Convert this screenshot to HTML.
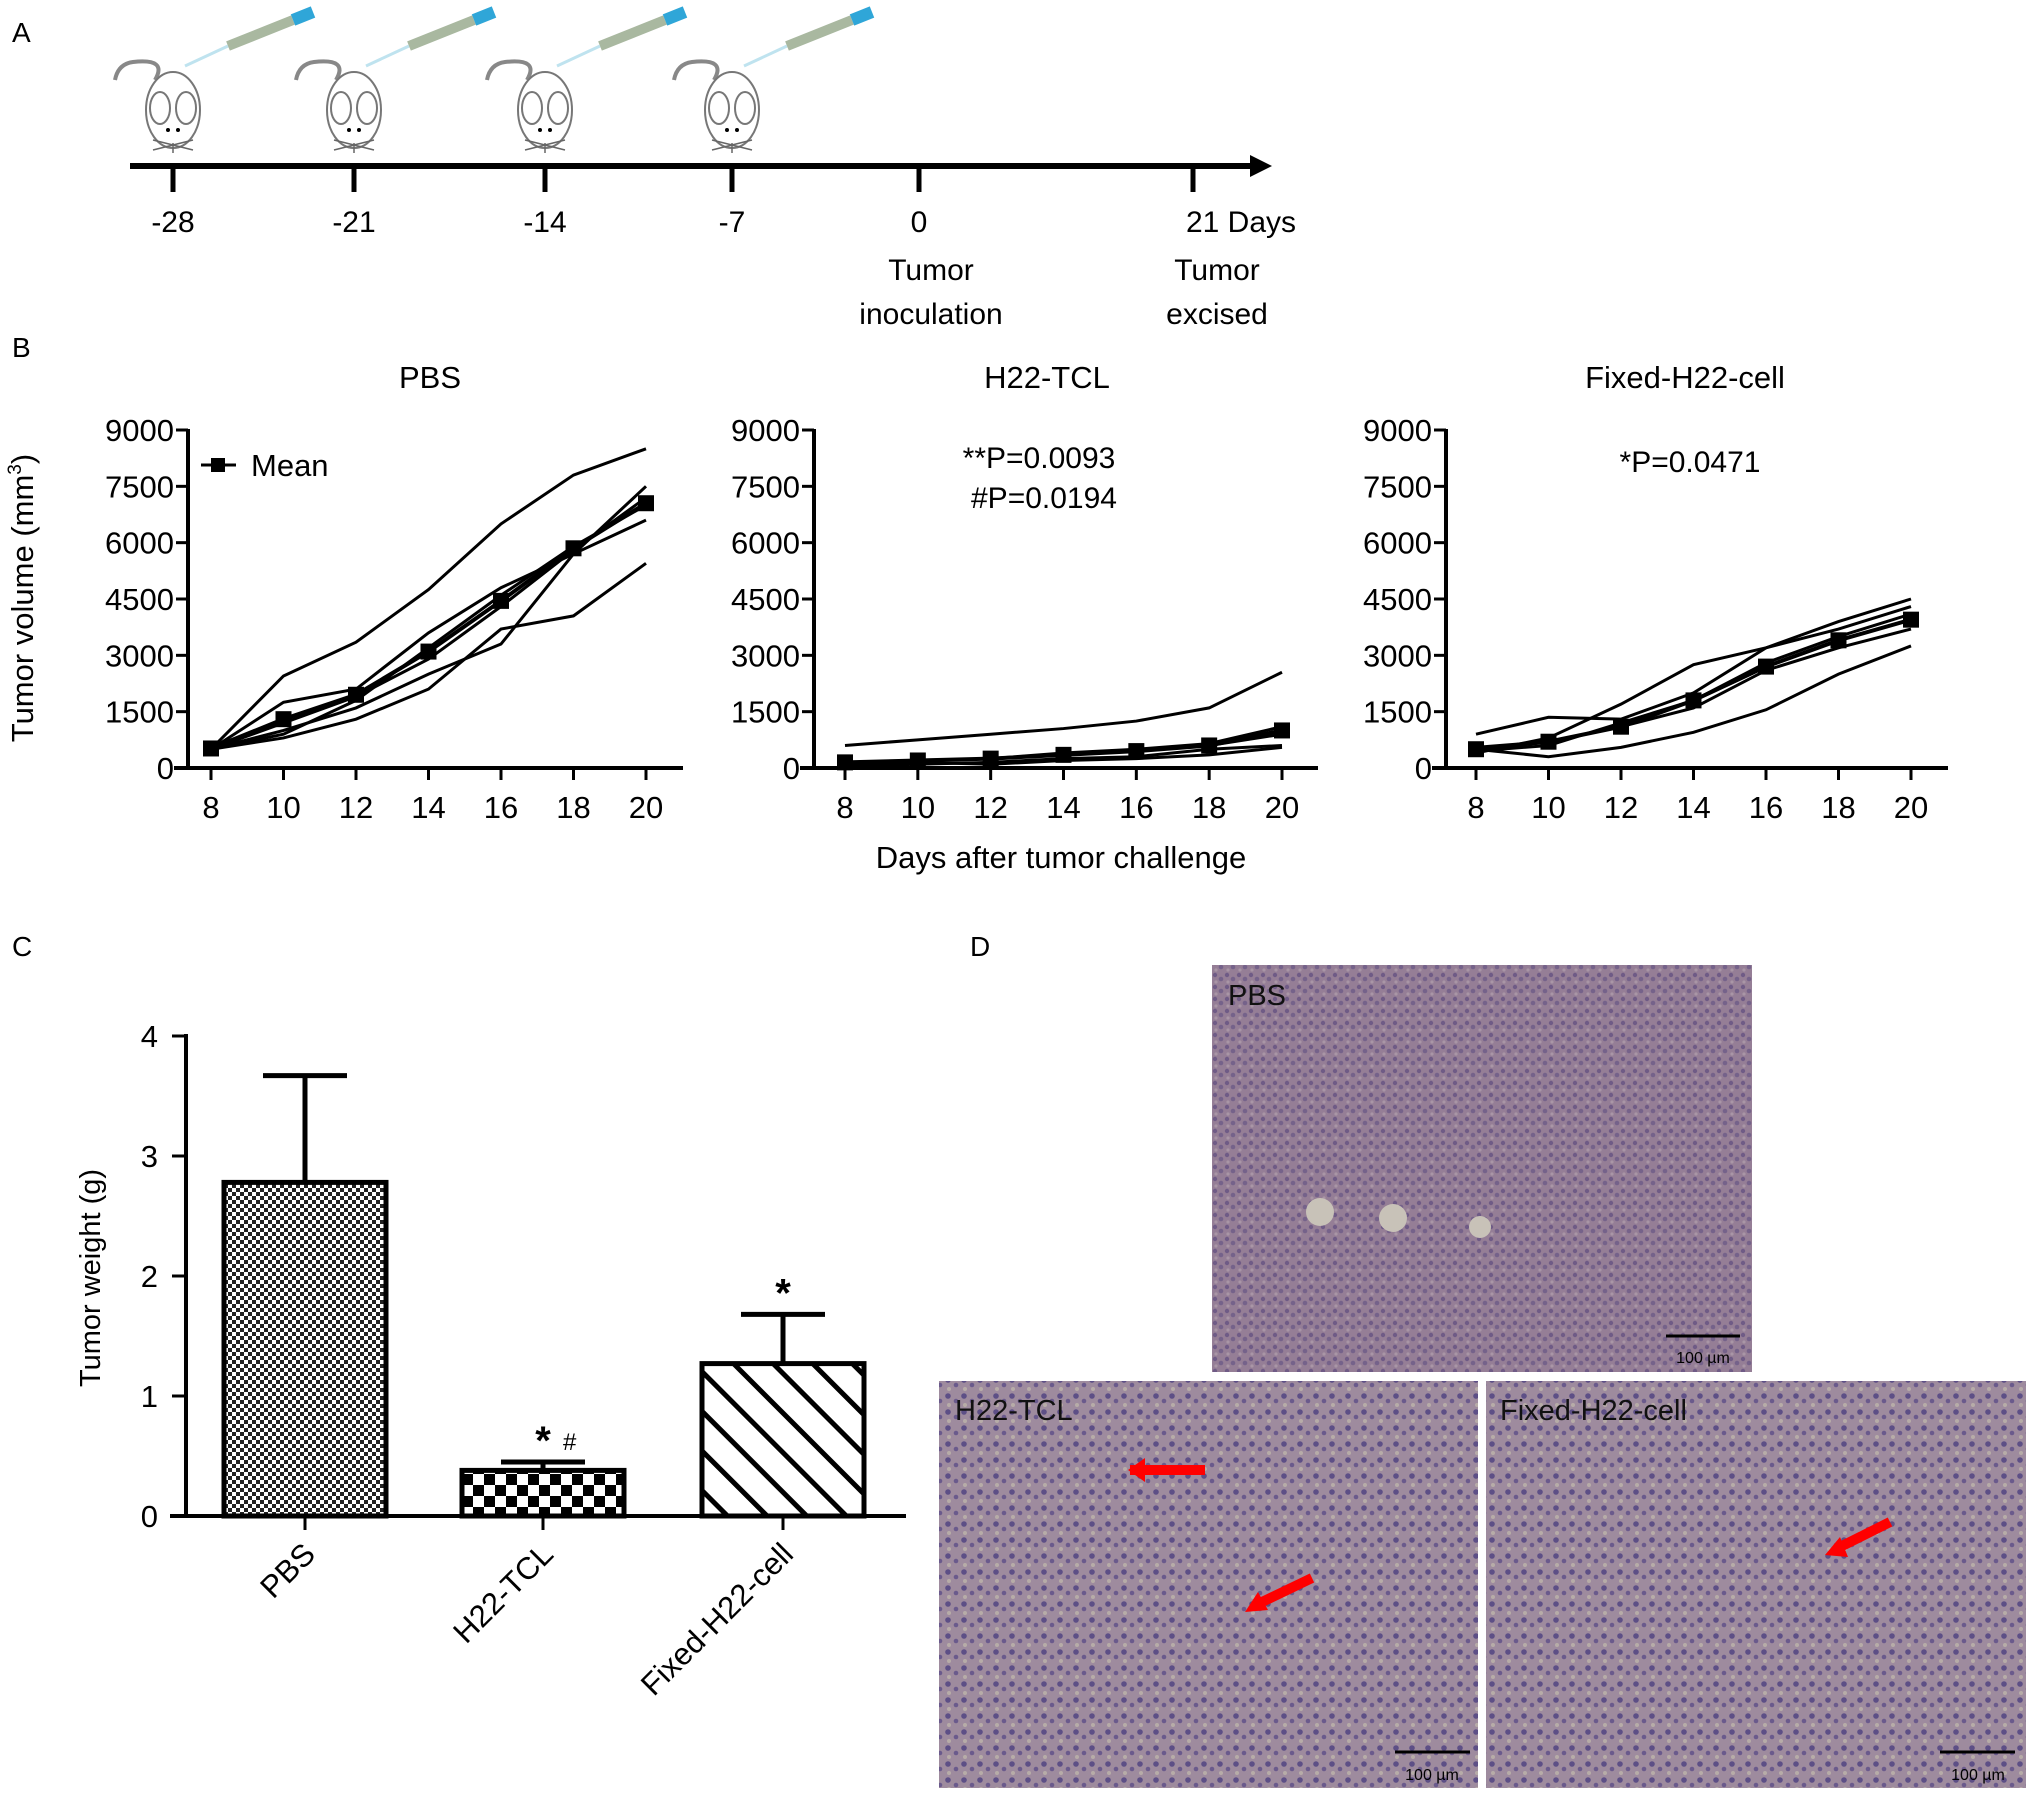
<!DOCTYPE html>
<html><head><meta charset="utf-8">
<style>
html,body{margin:0;padding:0;background:#fff;}
svg{display:block;font-family:"Liberation Sans",Arial,sans-serif;}
</style></head>
<body>
<svg id="fig" width="2032" height="1793" viewBox="0 0 2032 1793" xmlns="http://www.w3.org/2000/svg">
<defs>
  <pattern id="pChkSmall" width="8" height="8" patternUnits="userSpaceOnUse">
    <rect width="8" height="8" fill="#fff"/><rect width="4" height="4" fill="#222"/><rect x="4" y="4" width="4" height="4" fill="#222"/>
  </pattern>
  <pattern id="pChkBig" width="22" height="22" patternUnits="userSpaceOnUse">
    <rect width="22" height="22" fill="#fff"/><rect width="11" height="11" fill="#000"/><rect x="11" y="11" width="11" height="11" fill="#000"/>
  </pattern>
  <pattern id="pDiag" width="28" height="28" patternUnits="userSpaceOnUse" patternTransform="rotate(-45)">
    <rect width="28" height="28" fill="#fff"/><rect x="0" y="0" width="5" height="28" fill="#000"/>
  </pattern>
  <pattern id="pTissue" width="12" height="12" patternUnits="userSpaceOnUse">
    <rect width="12" height="12" fill="#957e96"/>
    <circle cx="3" cy="3" r="2.2" fill="#6f5b86"/><circle cx="9" cy="7" r="2.3" fill="#75628a"/><circle cx="4" cy="10" r="1.6" fill="#a996a6"/>
  </pattern>
  <pattern id="pTissue2" width="16" height="16" patternUnits="userSpaceOnUse">
    <rect width="16" height="16" fill="#9e8b9e"/>
    <circle cx="4" cy="4" r="2.8" fill="#5d4f86"/><circle cx="12" cy="9" r="2.3" fill="#6a5a8c"/><circle cx="5" cy="13" r="2" fill="#b7aca8"/>
  </pattern>
</defs>

<!-- Panel letters -->
<text x="12" y="42" font-size="28">A</text>
<text x="12" y="357" font-size="28">B</text>
<text x="12" y="956" font-size="28">C</text>
<text x="970" y="956" font-size="28">D</text>

<!-- Panel A timeline -->
<g id="timeline">
  <line x1="130" y1="166" x2="1255" y2="166" stroke="#000" stroke-width="6"/>
  <polygon points="1250,155 1272,166 1250,177" fill="#000"/>
</g>
<g id="mice"></g>

<!-- Panel B -->
<g id="panelB"></g>
<text x="33" y="598" font-size="31" text-anchor="middle" transform="rotate(-90 33 598)">Tumor volume (mm<tspan font-size="19" dy="-12">3</tspan><tspan dy="12">)</tspan></text>
<text x="1061" y="868" font-size="31" text-anchor="middle">Days after tumor challenge</text>
<text x="1039" y="468" font-size="30" text-anchor="middle">**P=0.0093</text>
<text x="1044" y="508" font-size="30" text-anchor="middle">#P=0.0194</text>
<text x="1690" y="472" font-size="30" text-anchor="middle">*P=0.0471</text>
<g>
  <line x1="201" y1="465" x2="236" y2="465" stroke="#000" stroke-width="3"/>
  <rect x="211" y="458" width="14" height="14" fill="#000"/>
  <text x="251" y="476" font-size="31">Mean</text>
</g>

<!-- Panel C -->
<g id="panelC"></g>
<text x="100" y="1278" font-size="29" text-anchor="middle" transform="rotate(-90 100 1278)">Tumor weight (g)</text>

<!-- Panel D -->
<g>
  <rect x="1212" y="965" width="540" height="407" fill="url(#pTissue)"/>
  <circle cx="1320" cy="1212" r="14" fill="#c8c2b8"/><circle cx="1393" cy="1218" r="14" fill="#c8c2b8"/><circle cx="1480" cy="1227" r="11" fill="#c8c2b8"/>
  <text x="1228" y="1005" font-size="29" fill="#111">PBS</text>
  <line x1="1666" y1="1336" x2="1740" y2="1336" stroke="#000" stroke-width="3"/>
  <text x="1703" y="1363" font-size="16" text-anchor="middle">100 µm</text>
</g>
<g>
  <rect x="939" y="1381" width="539" height="407" fill="url(#pTissue2)"/>
  <text x="955" y="1420" font-size="29" fill="#111">H22-TCL</text>
  <line x1="1130" y1="1470" x2="1205" y2="1470" stroke="#f00" stroke-width="10"/>
  <polygon points="1128,1470 1145,1458 1145,1482" fill="#f00"/>
  <line x1="1262" y1="1602" x2="1312" y2="1578" stroke="#f00" stroke-width="10"/>
  <polygon points="1245,1612 1258,1592 1268,1610" fill="#f00"/>
  <line x1="1395" y1="1752" x2="1470" y2="1752" stroke="#000" stroke-width="3"/>
  <text x="1432" y="1780" font-size="16" text-anchor="middle">100 µm</text>
</g>
<g>
  <rect x="1486" y="1381" width="540" height="407" fill="url(#pTissue2)"/>
  <text x="1500" y="1420" font-size="29" fill="#111">Fixed-H22-cell</text>
  <line x1="1838" y1="1548" x2="1890" y2="1522" stroke="#f00" stroke-width="10"/>
  <polygon points="1825,1555 1840,1537 1848,1557" fill="#f00"/>
  <line x1="1940" y1="1752" x2="2015" y2="1752" stroke="#000" stroke-width="3"/>
  <text x="1978" y="1780" font-size="16" text-anchor="middle">100 µm</text>
</g>

<script>
var NS = 'http://www.w3.org/2000/svg';
function mk(tag, attrs, parent){var e=document.createElementNS(NS,tag);for(var k in attrs)e.setAttribute(k,attrs[k]);if(parent)parent.appendChild(e);return e;}

// ---------- Panel A data ----------
var timelineDays = [-28,-21,-14,-7,0,21];
var timelineLabels = ['-28','-21','-14','-7','0','21 Days'];
var injectionDays = [-28,-21,-14,-7];
function tx(d){ var xs=[173,354,545,732,919,1193]; var i=timelineDays.indexOf(d); if(i>=0) return xs[i]; return 919 + (d)*(1193-919)/21; }
var tl = document.getElementById('timeline');
timelineDays.forEach(function(d,i){
  var t = mk('line',{x1:tx(d),y1:166,x2:tx(d),y2:192,stroke:'#000','stroke-width':5},tl);
  
  
  var lb = mk('text',{x: i===5 ? tx(d)+48 : tx(d), y:232,'font-size':30,'text-anchor':'middle'},tl);
  lb.textContent = timelineLabels[i];
  
  
});
[['Tumor',931,280],['inoculation',931,324],['Tumor',1217,280],['excised',1217,324]].forEach(function(a){
  var t=mk('text',{x:a[1],y:a[2],'font-size':30,'text-anchor':'middle'},tl);t.textContent=a[0];
  
  
});
var mice = document.getElementById('mice');
injectionDays.forEach(function(d){
  var cx = tx(d);
  var g = mk('g',{},mice);
  
  
  mk('path',{d:'M'+(cx-18)+' 80 Q'+(cx-5)+' 58 '+(cx-40)+' 62 Q'+(cx-55)+' 64 '+(cx-58)+' 80',fill:'none',stroke:'#888','stroke-width':4},g);
  mk('ellipse',{cx:cx,cy:110,rx:27,ry:38,fill:'#fff',stroke:'#777','stroke-width':2},g);
  mk('ellipse',{cx:cx-13,cy:108,rx:10,ry:16,fill:'none',stroke:'#777','stroke-width':2},g);
  mk('ellipse',{cx:cx+13,cy:108,rx:10,ry:16,fill:'none',stroke:'#777','stroke-width':2},g);
  mk('circle',{cx:cx-5,cy:130,r:2,fill:'#000'},g);
  mk('circle',{cx:cx+5,cy:130,r:2,fill:'#000'},g);
  mk('path',{d:'M'+(cx-20)+' 140 L'+(cx+20)+' 150 M'+(cx+20)+' 140 L'+(cx-20)+' 150 M'+cx+' 143 L'+cx+' 153',stroke:'#666','stroke-width':1.5},g);
  var s = mk('g',{},mice);
  
  
  mk('line',{x1:cx+12,y1:66,x2:cx+55,y2:46,stroke:'#bfe3ef','stroke-width':3},s);
  mk('line',{x1:cx+55,y1:46,x2:cx+120,y2:20,stroke:'#a9b8a0','stroke-width':10},s);
  mk('line',{x1:cx+120,y1:20,x2:cx+140,y2:12,stroke:'#2fa6d8','stroke-width':12},s);
});

// ---------- Panel B data ----------
var days = [8,10,12,14,16,18,20];
var volTicks = [0,1500,3000,4500,6000,7500,9000];
var panelTitles = ['PBS','H22-TCL','Fixed-H22-cell'];
var pbsIndividuals = [
  [500,2450,3350,4750,6500,7800,8500],
  [500,800,1300,2100,3700,4050,5450],
  [500,1750,2100,3600,4800,5700,7500],
  [500,1000,1600,2500,3300,5700,6600],
  [500,1200,1900,2900,4300,5800,7200],
  [500,900,1800,3200,4600,5900,7000]
];
var pbsMean = [520,1300,1950,3100,4450,5850,7050];
var h22Individuals = [
  [600,750,900,1050,1250,1600,2550],
  [100,200,250,400,500,650,1100],
  [50,100,150,250,300,500,600],
  [80,150,100,200,250,350,550],
  [120,200,250,350,450,600,900]
];
var h22Mean = [150,200,250,350,450,600,1000];
var fixedIndividuals = [
  [900,1350,1300,2000,3200,3900,4500],
  [500,300,550,950,1550,2500,3250],
  [400,800,1700,2750,3200,3700,4300],
  [550,700,1100,1600,2600,3200,3700],
  [450,600,1200,1800,2800,3500,4100]
];
var fixedMean = [500,700,1100,1800,2700,3400,3950];

var panels = [
  {ax:188, x8:211, x20:646, xend:683, ind:pbsIndividuals, mean:pbsMean, tx:430},
  {ax:814, x8:845, x20:1282, xend:1318, ind:h22Individuals, mean:h22Mean, tx:1047},
  {ax:1446, x8:1476, x20:1911, xend:1948, ind:fixedIndividuals, mean:fixedMean, tx:1685}
];
var Y0=768, Y9=430;
function yv(v){return Y0 - v/9000*(Y0-Y9);}
var pB = document.getElementById('panelB');
panels.forEach(function(p,pi){
  function xd(d){return p.x8 + (d-8)/12*(p.x20-p.x8);}
  var g = mk('g',{},pB);
  
  
  var t = mk('text',{x:p.tx,y:388,'font-size':31,'text-anchor':'middle'},g);
  t.textContent = panelTitles[pi];
  
  
  var ya = mk('line',{x1:p.ax,y1:Y9-1,x2:p.ax,y2:Y0,stroke:'#000','stroke-width':4},g);
  
  
  var xa = mk('line',{x1:p.ax-14,y1:Y0,x2:p.xend,y2:Y0,stroke:'#000','stroke-width':4},g);
  
  
  volTicks.forEach(function(v){
    mk('line',{x1:p.ax-12,y1:yv(v),x2:p.ax,y2:yv(v),stroke:'#000','stroke-width':3},g);
    var l = mk('text',{x:p.ax-14,y:yv(v)+11,'font-size':31,'text-anchor':'end'},g);
    l.textContent = v;
    
    
  });
  days.forEach(function(d){
    mk('line',{x1:xd(d),y1:Y0,x2:xd(d),y2:Y0+12,stroke:'#000','stroke-width':3},g);
    var l = mk('text',{x:xd(d),y:818,'font-size':31,'text-anchor':'middle'},g);
    l.textContent = d;
    
    
  });
  p.ind.forEach(function(s){
    var pl = mk('polyline',{points:s.map(function(v,i){return xd(days[i])+','+yv(v);}).join(' '),fill:'none',stroke:'#000','stroke-width':3},g);
    
    
  });
  var ml = mk('polyline',{points:p.mean.map(function(v,i){return xd(days[i])+','+yv(v);}).join(' '),fill:'none',stroke:'#000','stroke-width':4},g);
  
  
  p.mean.forEach(function(v,i){
    var m = mk('rect',{x:xd(days[i])-8,y:yv(v)-8,width:16,height:16,fill:'#000'},g);
    
    
  });
});

// ---------- Panel C data ----------
var groups = ['PBS','H22-TCL','Fixed-H22-cell'];
var weights = [2.78,0.38,1.27];
var weightErr = [0.89,0.07,0.41];
var weightTicks = [0,1,2,3,4];
var sigMarks = ['','*','*'];
var sigHash = ['','#',''];
var fills = ['url(#pChkSmall)','url(#pChkBig)','url(#pDiag)'];
var barLeft = [224,462,702], barW = 162;
var C0=1516, C4=1036;
function yw(v){return C0 - v/4*(C0-C4);}
var pC = document.getElementById('panelC');
var cya = mk('line',{x1:186,y1:C4-2,x2:186,y2:C0,stroke:'#000','stroke-width':4},pC);


var cxa = mk('line',{x1:170,y1:C0,x2:906,y2:C0,stroke:'#000','stroke-width':4},pC);


weightTicks.forEach(function(v){
  mk('line',{x1:172,y1:yw(v),x2:186,y2:yw(v),stroke:'#000','stroke-width':3},pC);
  var l = mk('text',{x:158,y:yw(v)+11,'font-size':31,'text-anchor':'end'},pC);
  l.textContent = v;
  
  
});
groups.forEach(function(gname,i){
  var x = barLeft[i], cx = x + barW/2;
  var b = mk('rect',{x:x,y:yw(weights[i]),width:barW,height:C0-yw(weights[i]),fill:fills[i],stroke:'#000','stroke-width':5},pC);
  
  
  var top = yw(weights[i]+weightErr[i]);
  var e = mk('path',{d:'M'+cx+' '+yw(weights[i])+' L'+cx+' '+top+' M'+(cx-42)+' '+top+' L'+(cx+42)+' '+top,stroke:'#000','stroke-width':5,fill:'none'},pC);
  
  
  mk('line',{x1:cx,y1:C0,x2:cx,y2:C0+14,stroke:'#000','stroke-width':3},pC);
  if(sigMarks[i]){
    var s = mk('text',{x:cx,y:top-8,'font-size':40,'font-weight':'bold','text-anchor':'middle'},pC);
    s.textContent = sigMarks[i];
    
    
  }
  if(sigHash[i]){
    var h = mk('text',{x:cx+20,y:top-12,'font-size':24},pC);
    h.textContent = sigHash[i];
    
    
  }
  var lx = cx+12, ly = C0+40;
  var l = mk('text',{x:lx,y:ly,'font-size':31,'text-anchor':'end',transform:'rotate(-45 '+lx+' '+ly+')'},pC);
  l.textContent = gname;
  
  
});
</script>
</svg>
</body></html>
